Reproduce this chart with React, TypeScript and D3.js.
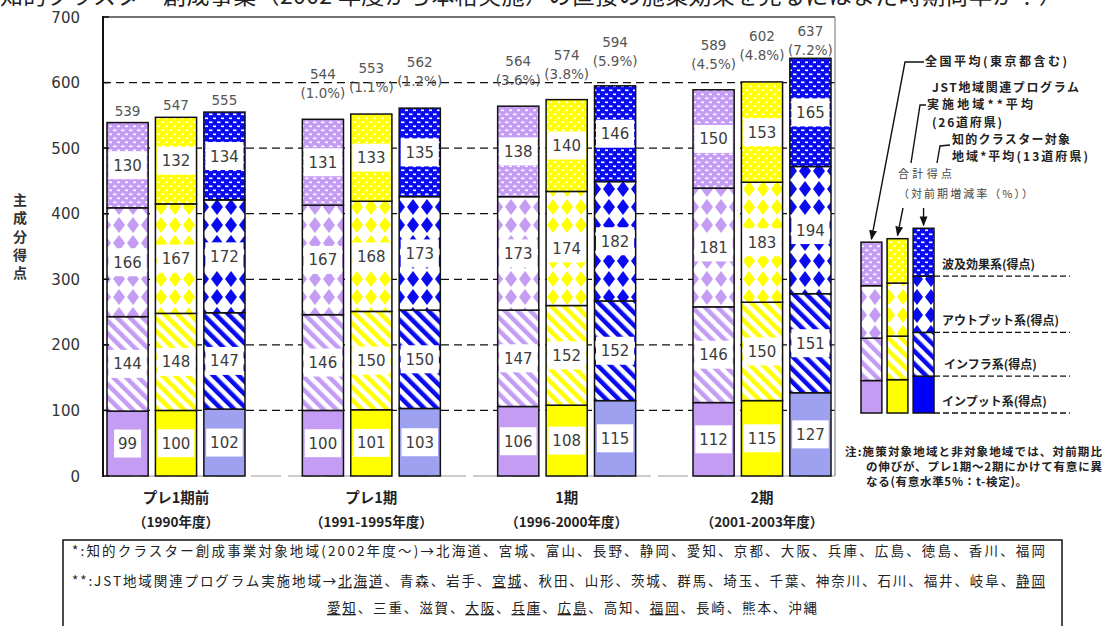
import React from "react";
import * as d3 from "d3";

// ---------- data ----------
const groups = ["プレ1期前", "プレ1期", "1期", "2期"];
const groupYears = ["（1990年度）", "（1991-1995年度）", "（1996-2000年度）", "（2001-2003年度）"];
const seriesKeys = ["national", "jst", "cluster"];
const components = ["input", "infra", "output", "ripple"];
// [group][series]
const inputVals = [[99, 100, 102], [100, 101, 103], [106, 108, 115], [112, 115, 127]];
const infraVals = [[144, 148, 147], [146, 150, 150], [147, 152, 152], [146, 150, 151]];
const outputVals = [[166, 167, 172], [167, 168, 173], [173, 174, 182], [181, 183, 194]];
const rippleVals = [[130, 132, 134], [131, 133, 135], [138, 140, 146], [150, 153, 165]];
const totals = [[539, 547, 555], [544, 553, 562], [564, 574, 594], [589, 602, 637]];
const growth = [[null, null, null], ["1.0%", "1.1%", "1.2%"], ["3.6%", "3.8%", "5.9%"], ["4.5%", "4.8%", "7.2%"]];
const yTicks = [0, 100, 200, 300, 400, 500, 600, 700];
const gridTicks = [100, 200, 300, 400, 500, 600];

const titleText = "知的クラスター創成事業（2002 年度から本格実施）の直接の施策効果を見るにはまだ時期尚早か？）";
const yTitle = ["主", "成", "分", "得", "点"];
const legendLabels = ["インプット系(得点)", "インフラ系(得点)", "アウトプット系(得点)", "波及効果系(得点)"];
const noteLines = [
  "注:施策対象地域と非対象地域では、対前期比",
  "の伸びが、プレ1期～2期にかけて有意に異",
  "なる(有意水準5%：t-検定)。",
];
const footRow1 = "*:知的クラスター創成事業対象地域(2002年度～)→北海道、宮城、富山、長野、静岡、愛知、京都、大阪、兵庫、広島、徳島、香川、福岡";
const footRow2 = [
  ["**:JST地域関連プログラム実施地域→", false],
  ["北海道", true], ["、青森、岩手、", false], ["宮城", true],
  ["、秋田、山形、茨城、群馬、埼玉、千葉、神奈川、石川、福井、岐阜、", false], ["静岡", true],
] as [string, boolean][];
const footRow3 = [
  ["愛知", true], ["、三重、滋賀、", false], ["大阪", true], ["、", false], ["兵庫", true], ["、", false],
  ["広島", true], ["、高知、", false], ["福岡", true], ["、長崎、熊本、沖縄", false],
] as [string, boolean][];

const colors: Record<string, { main: string; input: string; legendInput: string }> = {
  national: { main: "#c49cf4", input: "#c49cf4", legendInput: "#c49cf4" },
  jst: { main: "#ffff00", input: "#ffff00", legendInput: "#ffff00" },
  cluster: { main: "#0a0af0", input: "#9ea0f0", legendInput: "#0000ff" },
};

const JP = "'Noto Sans CJK JP', 'Noto Sans', sans-serif";
const NUM = "'DejaVu Sans', sans-serif";

export default function App() {
  const y = d3.scaleLinear().domain([0, 700]).range([476, 17]);
  const xg = d3.scalePoint<string>().domain(groups).range([176, 762]);
  const xs = d3.scaleBand<string>().domain(seriesKeys).range([-69, 69]).paddingInner(0.15);
  const bw = xs.bandwidth();

  const rows = groups.flatMap((g, gi) =>
    seriesKeys.map((s, si) => ({
      g, gi, s, si,
      input: inputVals[gi][si],
      infra: infraVals[gi][si],
      output: outputVals[gi][si],
      ripple: rippleVals[gi][si],
    }))
  );
  const stacked = d3.stack<any>().keys(components)(rows as any);

  // legend
  const lastG = groups.length - 1;
  const legendRows = rows.filter((r) => r.gi === lastG);
  const legendStack = d3.stack<any>().keys(components)(legendRows as any);
  const ly = d3.scaleLinear().domain([0, 700]).range([413, 413 - 700 * 0.29]);
  const lx = d3.scaleBand<string>().domain(seriesKeys).range([861, 934]).paddingInner(0.2);
  const lbw = lx.bandwidth();
  const clusterIdx = legendRows.findIndex((r) => r.s === "cluster");

  const patterns = seriesKeys.map((s) => {
    const c = colors[s].main;
    return (
      <g key={s}>
        <pattern id={`ripple-${s}`} width={8} height={8} patternUnits="userSpaceOnUse">
          <rect width={8} height={8} fill={c} />
          <rect x={1} y={1.5} width={3.5} height={1.6} fill="#fff" />
          <rect x={5} y={5.5} width={3.5} height={1.6} fill="#fff" />
        </pattern>
        <pattern id={`output-${s}`} width={14} height={18} patternUnits="userSpaceOnUse">
          <rect width={14} height={18} fill="#fff" />
          <polygon points="7,1 13,9 7,17 1,9" fill={c} />
        </pattern>
        <pattern id={`infra-${s}`} width={9} height={9} patternUnits="userSpaceOnUse" patternTransform="rotate(-45)">
          <rect width={9} height={9} fill="#fff" />
          <rect width={4.5} height={9} fill={c} />
        </pattern>
      </g>
    );
  });

  const fillFor = (comp: string, s: string, legend = false) => {
    if (comp === "input") return legend ? colors[s].legendInput : colors[s].input;
    return `url(#${comp}-${s})`;
  };

  return (
    <svg width={1104} height={626} style={{ position: "absolute", left: 0, top: 0, background: "#fff" }}
      fontFamily={JP}>
      <defs>
        {patterns}
        <marker id="arrow" viewBox="0 0 10 10" refX={9} refY={5} markerWidth={7} markerHeight={7} orient="auto-start-reverse">
          <path d="M0,1 L10,5 L0,9 z" fill="#111" />
        </marker>
      </defs>
      <rect width={1104} height={626} fill="#fff" />

      {/* title (cut at top) */}
      <text x={0} y={4} fontSize={23} fill="#222" textLength={1062} lengthAdjust="spacing">{titleText}</text>

      {/* gridlines */}
      {gridTicks.map((t) => (
        <line key={t} x1={103} x2={835} y1={y(t)} y2={y(t)} stroke="#111" strokeWidth={1.3} strokeDasharray="8,5" />
      ))}
      <line x1={103} x2={835} y1={y(0)} y2={y(0)} stroke="#999" strokeWidth={1.2} strokeDasharray="30,7" />

      {/* bars */}
      {stacked.map((layer, ci) =>
        layer.map((d: any, ri: number) => {
          const r = d.data;
          const x = (xg(r.g) as number) + (xs(r.s) as number);
          const y0 = y(d[0]);
          const y1 = y(d[1]);
          return (
            <rect key={`${ci}-${ri}`} x={x} y={y1} width={bw} height={y0 - y1}
              fill={fillFor(components[ci], r.s)} stroke="#111" strokeWidth={1.5} />
          );
        })
      )}

      {/* segment labels */}
      {stacked.map((layer, ci) =>
        layer.map((d: any, ri: number) => {
          const r = d.data;
          const comp = components[ci];
          const x = (xg(r.g) as number) + (xs(r.s) as number);
          const cy = (y(d[0]) + y(d[1])) / 2;
          const v = r[comp];
          const tw = String(v).length * 9.5 + 8;
          return (
            <g key={`l-${ci}-${ri}`}>
              {comp === "input" ? (
                <rect x={x + bw / 2 - tw / 2} y={cy - 14} width={tw} height={28} fill="#fff" />
              ) : (
                <rect x={x + 1.5} y={cy - 14} width={bw - 3} height={28} fill="#fff" />
              )}
              <text x={x + bw / 2} y={cy + 5.5} textAnchor="middle" fontFamily={NUM} fontSize={15} fill="#3c3c3c">{v}</text>
            </g>
          );
        })
      )}

      {/* totals */}
      {rows.map((r, i) => {
        const x = (xg(r.g) as number) + (xs(r.s) as number) + bw / 2;
        const top = y(totals[r.gi][r.si]);
        const pct = growth[r.gi][r.si];
        if (!pct) {
          return (
            <text key={`t${i}`} x={x} y={top - 7} textAnchor="middle" fontFamily={NUM} fontSize={13.5} fill="#555">
              {totals[r.gi][r.si]}
            </text>
          );
        }
        const ty = Math.max(top - 40, 36);
        return (
          <g key={`t${i}`}>
            <text x={x} y={ty} textAnchor="middle" fontFamily={NUM} fontSize={13.5} fill="#555">{totals[r.gi][r.si]}</text>
            <text x={x} y={ty + 19} textAnchor="middle" fontFamily={NUM} fontSize={13.5} fill="#555">({pct})</text>
          </g>
        );
      })}

      {/* frame & axis */}
      <line x1={103} x2={835} y1={17} y2={17} stroke="#444" strokeWidth={1.5} />
      <line x1={835} x2={835} y1={17} y2={476} stroke="#888" strokeWidth={1.2} />
      <line x1={103} x2={103} y1={16} y2={477} stroke="#111" strokeWidth={2} />
      {yTicks.map((t) => (
        <g key={t}>
          <line x1={103} x2={109} y1={y(t)} y2={y(t)} stroke="#111" strokeWidth={1.5} />
          <text x={80} y={y(t) + 5.5} textAnchor="end" fontFamily={NUM} fontSize={15} fill="#333">{t}</text>
        </g>
      ))}
      {yTitle.map((c, i) => (
        <text key={c} x={20} y={205 + i * 18.3} textAnchor="middle" fontSize={14} fontWeight={700} fill="#333">{c}</text>
      ))}

      {/* category labels */}
      {groups.map((g, gi) => (
        <g key={g}>
          <text x={xg(g)} y={503} textAnchor="middle" fontSize={14.5} fontWeight={700} fill="#222">{g}</text>
          <text x={xg(g)} y={527} textAnchor="middle" fontSize={13.5} fontWeight={700} fill="#222">{groupYears[gi]}</text>
        </g>
      ))}

      {/* legend bars */}
      {legendStack.map((layer, ci) =>
        layer.map((d: any, ri: number) => {
          const r = d.data;
          return (
            <rect key={`lg-${ci}-${ri}`} x={lx(r.s)} y={ly(d[1])} width={lbw} height={ly(d[0]) - ly(d[1])}
              fill={fillFor(components[ci], r.s, true)} stroke="#111" strokeWidth={1.5} />
          );
        })
      )}
      {legendLabels.map((lab, ci) => {
        const ly0 = ly(legendStack[ci][clusterIdx][0]);
        return (
          <g key={lab}>
            <line x1={934} x2={1070} y1={ly0} y2={ly0} stroke="#111" strokeWidth={1.3} strokeDasharray="6,3" />
            <text x={ci === 1 ? 944 : 942} y={ly0 - 7} fontSize={12} fontWeight={700} fill="#222">{lab}</text>
          </g>
        );
      })}

      {/* legend annotations */}
      <g fontSize={12} fontWeight={700} fill="#222">
        <text x={925} y={66} textLength={142} lengthAdjust="spacing">全国平均(東京都含む)</text>
        <text x={932} y={92} textLength={147} lengthAdjust="spacing">JST地域関連プログラム</text>
        <text x={927} y={109} textLength={106} lengthAdjust="spacing">実施地域**平均</text>
        <text x={932} y={127} textLength={70} lengthAdjust="spacing">(26道府県)</text>
        <text x={952} y={144} textLength={118} lengthAdjust="spacing">知的クラスター対象</text>
        <text x={952} y={161} textLength={136} lengthAdjust="spacing">地域*平均(13道府県)</text>
      </g>
      <g fontSize={11} fill="#444">
        <text x={898} y={178} textLength={54} lengthAdjust="spacing">合計得点</text>
        <text x={898} y={198} textLength={135} lengthAdjust="spacing">（対前期増減率（%））</text>
      </g>
      <g stroke="#111" strokeWidth={1.4} fill="none">
        <polyline points={`924,62 905,62 ${(lx("national") as number) + lbw / 2},${ly(totals[lastG][0]) - 3}`} markerEnd="url(#arrow)" />
        <polyline points="926,105 920,105 911,163" />
        <line x1={903} y1={208} x2={(lx("jst") as number) + lbw / 2} y2={ly(totals[lastG][1]) - 3} markerEnd="url(#arrow)" />
        <polyline points="950,145 940,146 937,163" />
        <line x1={(lx("cluster") as number) + lbw / 2} y1={208} x2={(lx("cluster") as number) + lbw / 2} y2={ly(totals[lastG][2]) - 3} markerEnd="url(#arrow)" />
      </g>

      {/* note */}
      <g fontSize={11.5} fontWeight={700} fill="#222">
        <text x={845} y={456} textLength={257} lengthAdjust="spacing">{noteLines[0]}</text>
        <text x={866} y={471} textLength={236} lengthAdjust="spacing">{noteLines[1]}</text>
        <text x={866} y={486} textLength={161} lengthAdjust="spacing">{noteLines[2]}</text>
      </g>

      {/* footnote box */}
      <rect x={63} y={540} width={999} height={92} fill="none" stroke="#111" strokeWidth={1.5} />
      <g fontSize={13.5} fill="#222">
        <text x={72} y={556} textLength={973} lengthAdjust="spacing">{footRow1}</text>
        <text x={72} y={586} textLength={973} lengthAdjust="spacing">
          {footRow2.map(([t, u], i) => (
            <tspan key={i} textDecoration={u ? "underline" : undefined}>{t}</tspan>
          ))}
        </text>
        <text x={327} y={613} textLength={490} lengthAdjust="spacing">
          {footRow3.map(([t, u], i) => (
            <tspan key={i} textDecoration={u ? "underline" : undefined}>{t}</tspan>
          ))}
        </text>
      </g>
    </svg>
  );
}
